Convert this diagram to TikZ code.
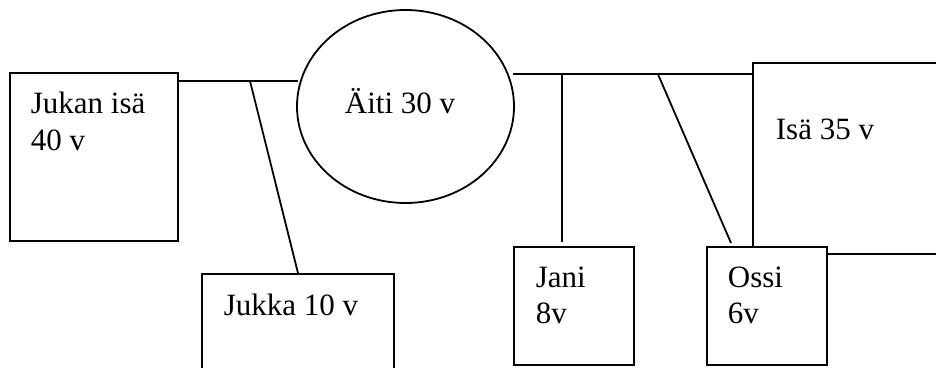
\documentclass[tikz,border=0pt]{standalone}
\usepackage{fontspec}
\setmainfont{Liberation Serif}
\usetikzlibrary{shapes.geometric}
\begin{document}
\begin{tikzpicture}[x=1pt,y=1pt,line width=1.8pt,
  person/.style={draw,fill=white,rectangle,inner sep=0pt},
  label/.style={anchor=base west,inner sep=0pt,font=\fontsize{31}{37}\selectfont}]
\useasboundingbox (0,0) rectangle (936,-367);
\clip (0,0) rectangle (936,-367);
% boxes
\node[person,minimum width=168pt,minimum height=168pt] (jukanisa) at (94,-157) {};
\node[person,minimum width=192pt,minimum height=160pt] (jukka) at (298,-354) {};
\node[person,minimum width=247pt,minimum height=191pt] (isa) at (876.5,-158.5) {};
\node[person,minimum width=120pt,minimum height=118pt] (jani) at (574,-306) {};
\node[person,minimum width=120pt,minimum height=118pt] (ossi) at (767,-306) {};
\node[draw,ellipse,inner sep=0pt,minimum width=217pt,minimum height=193pt] (aiti) at (405.5,-106.5) {};
% texts
\node[label] (t1) at (30,-113) {Jukan isä};
\node[label] (t2) at (30,-150) {40 v};
\node[label] (t3) at (223,-315) {Jukka 10 v};
\node[label] (t4) at (344,-113) {Äiti 30 v};
\node[label] (t5) at (775,-139) {Isä 35 v};
\node[label] (t6) at (535,-287) {Jani};
\node[label] (t7) at (535,-323) {8v};
\node[label] (t8) at (727,-287) {Ossi};
\node[label] (t9) at (727,-323) {6v};
% connection points
\coordinate (pl) at (250,-81);
\coordinate (al) at (298,-81);
\coordinate (ar) at (513,-74.3);
\coordinate (pj) at (562,-74.3);
\coordinate (po) at (658,-74.3);
\coordinate (oe) at (731,-243);
% connectors
\draw (jukanisa.east |- pl) -- (al);
\draw (pl) -- (jukka.north);
\draw (ar) -- (isa.west |- ar);
\draw (pj) -- ([yshift=4pt]pj |- jani.north);
\draw (po) -- (oe);
\end{tikzpicture}
\end{document}
